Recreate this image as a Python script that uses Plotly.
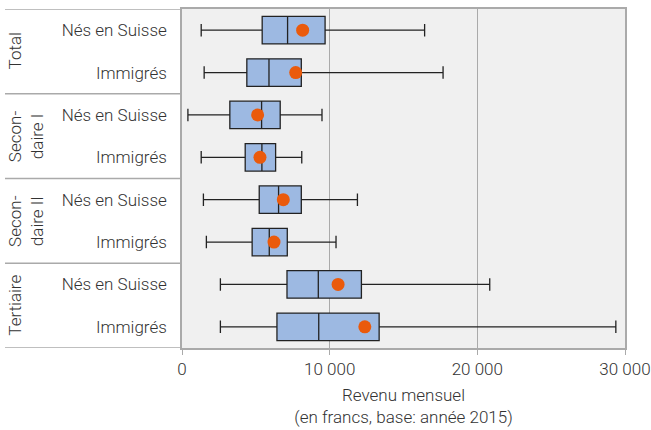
import plotly.graph_objects as go

# ---- data ----
row_labels = ["Nés en Suisse", "Immigrés", "Nés en Suisse", "Immigrés",
              "Nés en Suisse", "Immigrés", "Nés en Suisse", "Immigrés"]
group_labels = ["Total", "Secon-<br>daire I", "Secon-<br>daire II", "Tertiaire"]
low_whisker = [1300, 1500, 400, 1300, 1450, 1650, 2600, 2600]
q1_values = [5430, 4390, 3240, 4280, 5230, 4750, 7110, 6430]
median_values = [7150, 5890, 5390, 5410, 6540, 5910, 9230, 9260]
q3_values = [9690, 8080, 6650, 6340, 8080, 7130, 12150, 13350]
high_whisker = [16430, 17680, 9480, 8110, 11880, 10430, 20840, 29380]
mean_values = [8170, 7700, 5120, 5280, 6860, 6230, 10570, 12380]
x_ticks = [0, 10000, 20000, 30000]

rows = list(range(len(row_labels)))

fig = go.Figure()
fig.add_trace(go.Box(
    y=rows, q1=q1_values, median=median_values, q3=q3_values,
    lowerfence=low_whisker, upperfence=high_whisker,
    orientation="h", width=0.65, whiskerwidth=0.45,
    fillcolor="#9db9e2", line=dict(color="#222222", width=1.3),
    boxpoints=False, hoverinfo="skip", showlegend=False,
))
fig.add_trace(go.Scatter(
    x=mean_values, y=rows, mode="markers",
    marker=dict(color="#ea5a0c", size=13, line=dict(width=0)),
    showlegend=False, hoverinfo="skip",
))

W, H = 651, 430
ml, mr, mt, mb = 182, 26, 9, 82
pw = W - ml - mr
left_px = 5
xp = (left_px - ml) / pw
FS = 17
FC = "#333333"
FW = 300
FONT = dict(family="Roboto", size=FS, color=FC, weight=FW)

# group separators
for b in [-0.5, 1.5, 3.5, 5.5, 7.5]:
    fig.add_shape(type="line", xref="paper", yref="y", x0=xp, x1=0, y0=b, y1=b,
                  line=dict(color="#aaaaaa", width=1.3), layer="above")
# group labels
for i, g in enumerate(group_labels):
    fig.add_annotation(xref="paper", yref="y", x=(3 - ml) / pw, y=2 * i + 0.5,
                       text=g, textangle=-90, showarrow=False,
                       xanchor="left", yanchor="middle", align="center",
                       font=FONT)

fig.update_layout(
    template="none",
    width=W, height=H,
    margin=dict(l=ml, r=mr, t=mt, b=mb, autoexpand=False),
    paper_bgcolor="white", plot_bgcolor="#f0f0f0",
    separators=", ",
    font=FONT,
    xaxis=dict(range=[0, 30000], tickvals=x_ticks, tickformat=",d",
               automargin=False, tickfont=FONT,
               showgrid=True, gridcolor="#aaaaaa", gridwidth=1.3,
               zeroline=False, showline=True, linecolor="#aaaaaa", linewidth=1.5,
               mirror=True, ticks="outside", ticklen=5, tickcolor="#aaaaaa",
               title=dict(text="Revenu mensuel<br>(en francs, base: année 2015)",
                          font=FONT, standoff=11)),
    yaxis=dict(range=[7.5, -0.5], tickvals=rows, ticktext=row_labels,
               automargin=False, tickfont=FONT,
               showgrid=False, zeroline=False, showline=True, linecolor="#aaaaaa",
               linewidth=1.5, mirror=True, ticks="outside", ticklen=10,
               tickcolor="rgba(0,0,0,0)"),
)

fig.write_html("out.html", config={"displayModeBar": False},
               post_script="document.body.style.margin='0';")
